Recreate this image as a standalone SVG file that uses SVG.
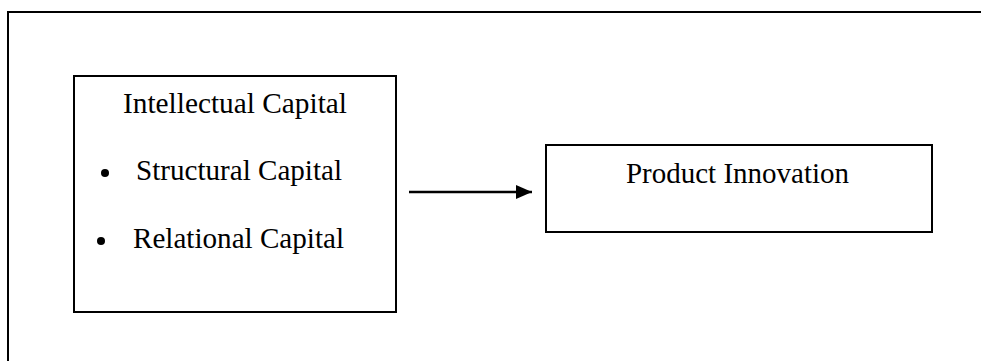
<svg xmlns="http://www.w3.org/2000/svg" width="981" height="361" viewBox="0 0 981 361">
<style>
.box{fill:#fff;stroke:#000;stroke-width:2}
.t{font-family:"Liberation Serif","Times New Roman",serif;font-size:28.5px;fill:#000}
</style>
<defs>
<marker id="ah" markerWidth="16" markerHeight="14" refX="16" refY="7" orient="auto" markerUnits="userSpaceOnUse" viewBox="0 0 16 14">
<path d="M0,0 L16,7 L0,14 Z" fill="#000"/>
</marker>
</defs>
<rect width="981" height="361" fill="#fff"/>
<g id="frame">
<path d="M8,361 L8,12 L981,12" fill="none" stroke="#000" stroke-width="2"/>
</g>
<g id="intellectual-capital">
<rect class="box" x="74" y="76" width="322" height="236"/>
<text class="t" x="123" y="113" textLength="224" lengthAdjust="spacingAndGlyphs">Intellectual Capital</text>
<circle cx="105" cy="173" r="4" fill="#000"/>
<text class="t" x="136" y="180" textLength="206" lengthAdjust="spacingAndGlyphs">Structural Capital</text>
<circle cx="101" cy="241" r="4" fill="#000"/>
<text class="t" x="133" y="248" textLength="211" lengthAdjust="spacingAndGlyphs">Relational Capital</text>
</g>
<g id="product-innovation">
<rect class="box" x="546" y="145" width="386" height="87"/>
<text class="t" x="626" y="183" textLength="223" lengthAdjust="spacingAndGlyphs">Product Innovation</text>
</g>
<g id="connectors">
<line x1="409" y1="192" x2="532" y2="192" stroke="#000" stroke-width="2.5" marker-end="url(#ah)"/>
</g>
</svg>
